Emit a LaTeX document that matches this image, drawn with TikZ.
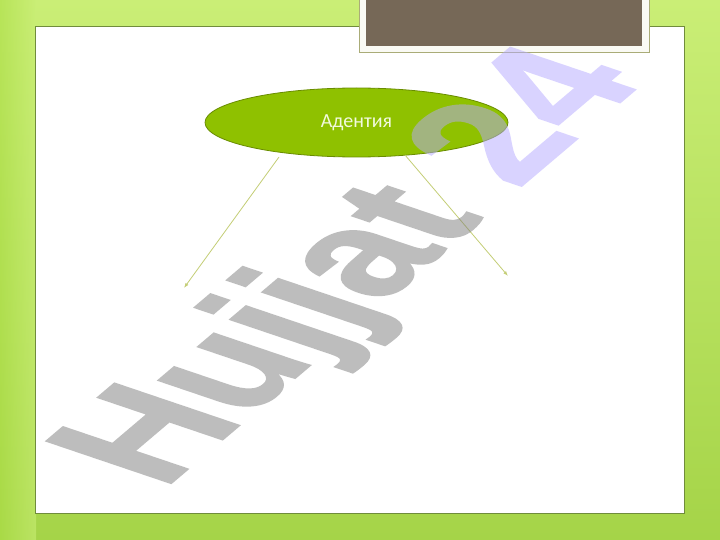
\documentclass[tikz,border=0pt]{standalone}
\usepackage{fontspec}
\newfontfamily\carl{Carlito}
\newfontfamily\wmfont{Liberation Sans Bold}[FakeBold=1.2]
\usetikzlibrary{shapes.geometric,arrows.meta}
\definecolor{bgtop}{RGB}{202,238,118}
\definecolor{bgbot}{RGB}{165,212,72}
\definecolor{bgleft}{RGB}{172,222,70}
\definecolor{panelline}{RGB}{112,140,60}
\definecolor{framefill}{RGB}{250,250,244}
\definecolor{frameline}{RGB}{170,172,120}
\definecolor{darkfill}{RGB}{118,104,87}
\definecolor{elfill}{RGB}{143,193,0}
\definecolor{elline}{RGB}{105,140,0}
\definecolor{eltext}{RGB}{242,250,222}
\definecolor{arrcol}{RGB}{196,206,118}
\definecolor{wmgray}{RGB}{125,125,125}
\definecolor{wmlav}{RGB}{181,169,255}
\tikzset{
  bluebox/.style={ellipse, fill=elfill, draw=elline, line width=0.8pt,
    minimum width=303pt, minimum height=69pt, inner sep=0pt,
    font=\carl\fontsize{20}{24}\selectfont, text=eltext},
  arr/.style={draw=arrcol, line width=0.8pt, -{Latex[length=5pt,width=3.5pt]}},
  wmstyle/.style={inner sep=0pt, anchor=base west, transform shape,
    font=\wmfont\fontsize{100}{100}\selectfont}
}
\begin{document}
\begin{tikzpicture}[x=1pt,y=-1pt]
\useasboundingbox (0,0) rectangle (720,540);
% background
\shade[top color=bgtop, bottom color=bgbot] (0,0) rectangle (720,540);
\shade[left color=bgleft, right color=bgtop, fill opacity=0.6] (0,0) rectangle (36,540);
% white panel
\node[draw=panelline, fill=white, line width=0.8pt, inner sep=0pt,
  minimum width=649pt, minimum height=487pt] (panel) at (359.5,269.5) {};
% top frame
\node[draw=frameline, fill=framefill, line width=0.6pt, inner sep=0pt,
  minimum width=290pt, minimum height=60pt] (frame) at (504,22) {};
\node[fill=darkfill, inner sep=0pt, minimum width=276pt, minimum height=54pt] (dark) at (504,19) {};
% ellipse
\node[bluebox] (e) at (356.5,122.5) {Адентия};
% connectors
\coordinate (s1) at (279,157);
\coordinate (t1) at (184,288);
\coordinate (s2) at (405,155);
\coordinate (t2) at (508,276);
\draw[arr] (s1) -- (t1);
\draw[arr] (s2) -- (t2);
% watermark
\begin{scope}[transparency group, opacity=0.5]
\begin{scope}[shift={(163,490)}]
\node[wmstyle, cm={1.159,0.983,-1.809,0.612,(0,0)}] (wm) at (0,0)
  {\color{wmgray}Hujjat \color{wmlav}24};
\end{scope}
\end{scope}
\end{tikzpicture}
\end{document}
